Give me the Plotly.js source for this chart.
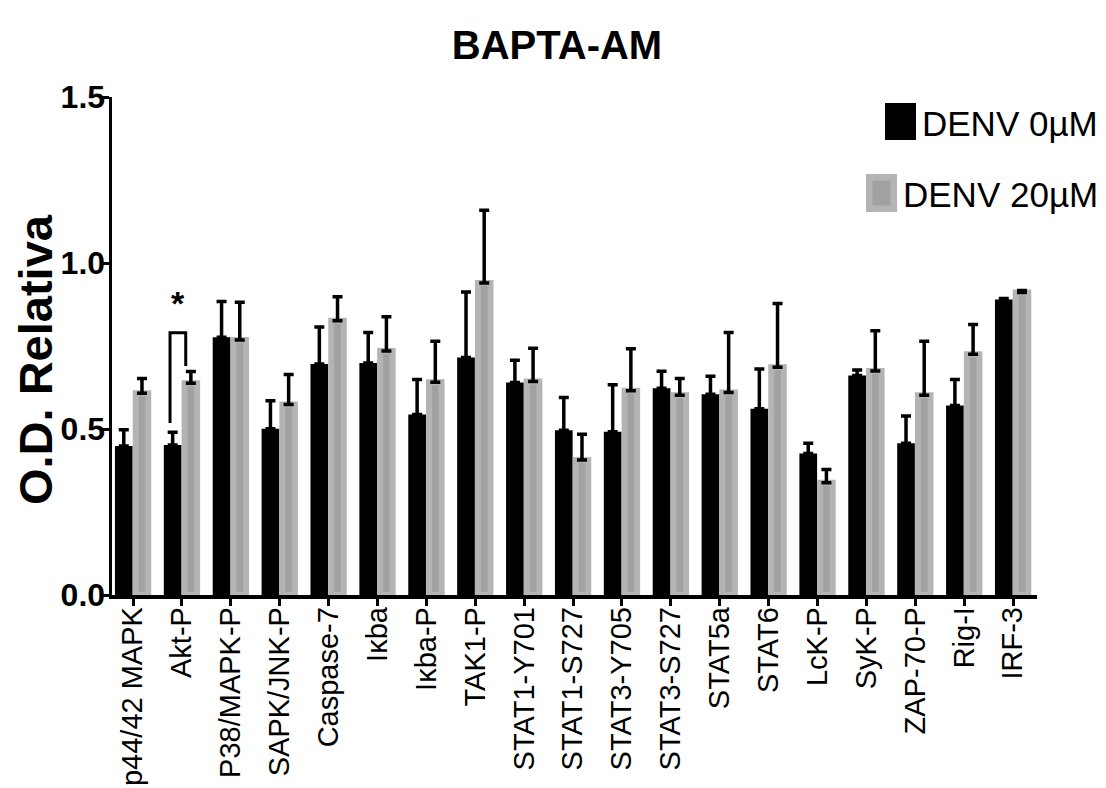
<!DOCTYPE html>
<html>
<head>
<meta charset="utf-8">
<script src="https://cdn.plot.ly/plotly-3.0.1.min.js"></script>
<style>html,body{margin:0;padding:0;background:#fff;}#chart{width:1106px;height:788px;}</style>
</head>
<body>
<div id="chart"></div>
<script>
// ---- data ----
var categories = ['p44/42 MAPK','Akt-P','P38/MAPK-P','SAPK/JNK-P','Caspase-7','Iκba','Iκba-P','TAK1-P',
  'STAT1-Y701','STAT1-S727','STAT3-Y705','STAT3-S727','STAT5a','STAT6','LcK-P','SyK-P','ZAP-70-P','Rig-I','IRF-3'];
var denv0 = [0.449,0.452,0.776,0.501,0.696,0.699,0.544,0.715,0.640,0.496,0.492,0.623,0.605,0.561,0.426,0.661,0.457,0.571,0.890];
var denv0Err = [0.049,0.038,0.108,0.084,0.111,0.092,0.105,0.198,0.067,0.099,0.141,0.051,0.054,0.120,0.031,0.017,0.082,0.078,0.003];
var denv20 = [0.608,0.638,0.768,0.574,0.826,0.735,0.641,0.940,0.643,0.407,0.615,0.602,0.610,0.686,0.338,0.675,0.602,0.725,0.911];
var denv20Err = [0.044,0.035,0.114,0.090,0.072,0.103,0.123,0.219,0.100,0.077,0.127,0.050,0.181,0.192,0.040,0.121,0.162,0.090,0.006];
var seriesNames = ['DENV 0µM','DENV 20µM'];
var yTicks = [0, 0.5, 1.0, 1.5];
var yTickText = ['0.0','0.5','1.0','1.5'];
var yTitle = 'O.D. Relativa';
// significance bracket (Akt-P): x from black to grey bar, y levels
var bracketX = [0.757, 1.078];
var bracketY = [0.518, 0.790, 0.690];
var starPos = [0.92, 0.815];

// ---- styling ----
var FONT = '"Liberation Sans", Arial, Helvetica, sans-serif';
var L = 112, R = 69, T = 97, B = 193, WID = 1106, HEI = 788;
var PW = WID - L - R, PH = HEI - T - B;
function px(x){ return (x - L) / PW; }
function py(y){ return (HEI - B - y) / PH; }
var LIGHT = '#b4b4b4', DARK = '#a1a1a4';

var zeros0 = denv0Err.map(function(){return 0;});
var zeros20 = denv20Err.map(function(){return 0;});

var traces = [
  {
    type:'bar', name: seriesNames[0], x: categories, y: denv0,
    offset: -0.37, width: 0.362,
    marker:{color:'#000000', line:{width:0}},
    error_y:{type:'data', symmetric:false, array: denv0Err, arrayminus: zeros0, color:'#000', thickness:3.5, width:5},
    showlegend:false, hoverinfo:'x+y'
  },
  {
    type:'bar', name: seriesNames[1], x: categories, y: denv20,
    offset: 0.055, width: 0.256,
    marker:{color:DARK, line:{color:LIGHT, width:6}},
    error_y:{type:'data', symmetric:false, array: denv20Err, arrayminus: zeros20, color:'#000', thickness:3.5, width:5},
    showlegend:false, hoverinfo:'x+y'
  }
];

var shapes = [
  // bracket
  {type:'path', xref:'x', yref:'y',
   path:'M'+bracketX[0]+','+bracketY[0]+' L'+bracketX[0]+','+bracketY[1]+' L'+bracketX[1]+','+bracketY[1]+' L'+bracketX[1]+','+bracketY[2],
   line:{color:'#000', width:3}},
  // legend squares
  {type:'rect', xref:'paper', yref:'paper', x0:px(885), x1:px(916), y0:py(140), y1:py(103), fillcolor:'#000', line:{width:0}},
  {type:'rect', xref:'paper', yref:'paper', x0:px(866), x1:px(897), y0:py(212), y1:py(174), fillcolor:LIGHT, line:{width:0}},
  {type:'rect', xref:'paper', yref:'paper', x0:px(872.5), x1:px(890.5), y0:py(205.5), y1:py(180.5), fillcolor:DARK, line:{width:0}}
];

var annotations = [
  {xref:'x', yref:'y', x: starPos[0], y: starPos[1], yanchor:'bottom', text:'<b>*</b>', showarrow:false, font:{family:FONT, size:34, color:'#000'}},
  {xref:'paper', yref:'paper', x: px(1100), y: py(123), xanchor:'right', yanchor:'middle', text: seriesNames[0], showarrow:false, font:{family:FONT, size:35, color:'#000'}},
  {xref:'paper', yref:'paper', x: px(1100), y: py(194), xanchor:'right', yanchor:'middle', text: seriesNames[1], showarrow:false, font:{family:FONT, size:35, color:'#000'}},
  {xref:'paper', yref:'paper', x: px(35), y: py(360), xanchor:'center', yanchor:'middle', textangle:-90, text:'<b>'+yTitle+'</b>', showarrow:false, font:{family:FONT, size:47, color:'#000'}}
];

var layout = {
  width: WID, height: HEI,
  margin:{l:L, r:R, t:T, b:B, pad:0},
  paper_bgcolor:'#fff', plot_bgcolor:'#fff',
  barmode:'overlay',
  title:{text:'<b>BAPTA-AM</b>', x: 557/WID, xref:'container', xanchor:'center', y: 1 - 45/HEI, yref:'container', yanchor:'middle',
         font:{family:FONT, size:40, color:'#000'}},
  xaxis:{
    type:'category', range:[-0.43, 18.49], fixedrange:true,
    showline:true, linecolor:'#000', linewidth:3.5, showgrid:false, zeroline:false,
    ticks:'outside', ticklen:7, tickwidth:3, tickcolor:'#000',
    tickangle:-90, ticklabelstandoff:-10, tickfont:{family:FONT, size:29, color:'#000'}
  },
  yaxis:{
    range:[0, 1.5], fixedrange:true,
    showline:true, linecolor:'#000', linewidth:3.5, showgrid:false, zeroline:false,
    ticks:'outside', ticklen:8, tickwidth:3, tickcolor:'#000',
    tickvals: yTicks, ticktext: yTickText, ticklabelstandoff:-11,
    tickfont:{family:FONT, size:32, color:'#000', weight:'bold'}
  },
  shapes: shapes,
  annotations: annotations,
  showlegend:false
};

Plotly.newPlot('chart', traces, layout, {displayModeBar:false, staticPlot:true});
</script>
</body>
</html>
